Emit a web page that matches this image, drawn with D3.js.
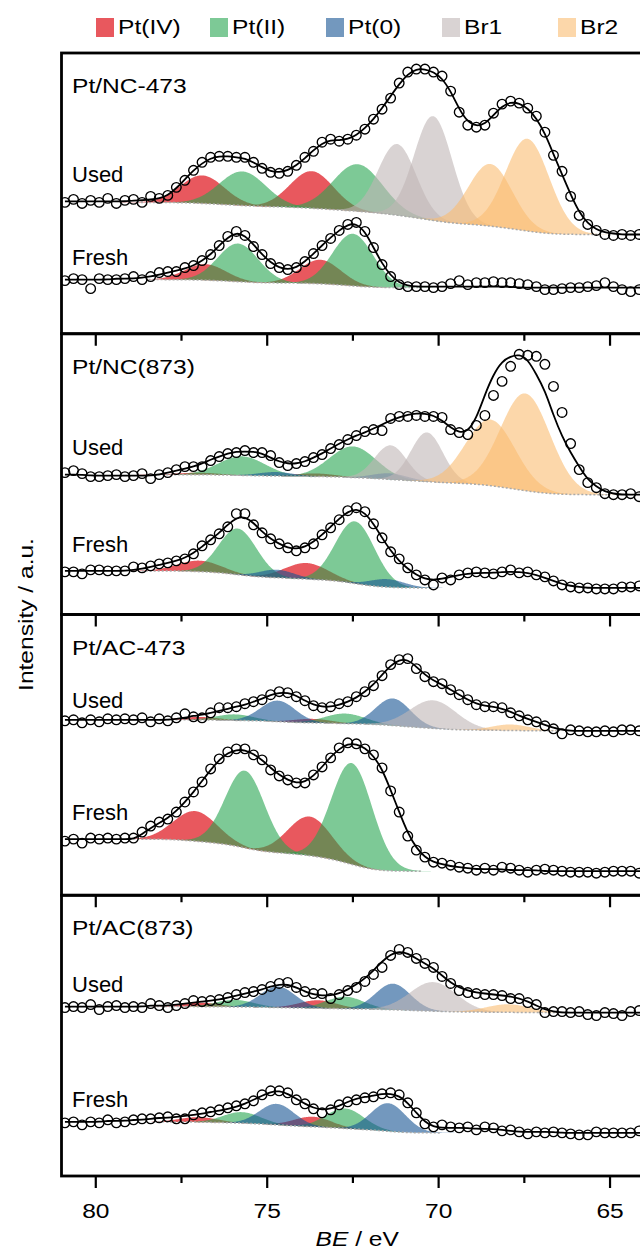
<!DOCTYPE html>
<html>
<head>
<meta charset="utf-8">
<script src="https://cdn.jsdelivr.net/npm/d3@7"></script>
<style>
  body { margin: 0; background: #fff; }
  svg { display: block; font-family: "Liberation Sans", Arial, sans-serif; }
</style>
</head>
<body>
<svg id="chart" width="640" height="1252"></svg>
<script>
// binding energy of the measured points (0.25 eV steps from 80.9 eV)
const bindingEnergy = d3.range(69).map(i => +(80.9 - 0.25 * i).toFixed(2));

const states = ["Pt(IV)", "Pt(II)", "Pt(0)", "Br1", "Br2"];
const samples = ["Pt/NC-473", "Pt/NC(873)", "Pt/AC-473", "Pt/AC(873)"];
const xTicks = [80, 75, 70, 65];
const xMinorTicks = [77.5, 72.5, 67.5];

// measured intensities (a.u., zero = flat baseline at low BE)
const nc473UsedData = [32,35,31,34,32,36,31,34,35,32,38,36,39,47,54,64,72,77,78,78,77,77,72,66,62,61,63,69,77,83,92,95,93,95,99,105,115,125,136,151,162,165,165,162,158,143,122,109,107,109,121,130,133,131,126,118,102,79,63,38,19,10,4,0,-1,0,-1,0,-1];
const nc473UsedFit = [33,33,33,33,33,33,33,33,34,34,35,36,39,46,55,64,71,76,78,78,77,76,72,67,63,62,64,69,76,84,91,94,94,95,99,106,115,126,138,150,160,165,165,162,156,143,125,112,108,110,119,128,132,131,126,116,101,80,60,40,22,11,5,2,1,0,0,0,0];
const nc473FreshData = [7,9,8,-1,9,8,8,9,11,8,11,15,16,16,20,22,27,33,42,51,56,52,41,33,24,20,18,20,26,34,42,49,57,63,65,56,40,23,11,3,1,1,1,0,1,4,7,3,5,5,6,5,5,4,3,1,-2,-2,-1,0,0,1,2,5,1,-2,-4,-2,-3];
const nc473FreshFit = [8,8,8,8,8,8,9,9,9,10,11,13,15,17,19,22,27,33,42,50,55,52,43,33,25,20,18,20,26,34,42,50,57,63,64,56,40,24,12,5,2,1,1,1,1,1,1,1,1,1,1,1,1,0,0,0,0,0,0,0,0,0,0,0,0,0,0,0,0];

const nc873UsedData = [22,24,21,18,18,19,20,18,19,21,16,20,22,25,28,28,28,34,38,41,42,44,42,42,39,32,29,31,33,37,40,46,50,55,59,63,65,64,76,78,78,79,78,78,77,65,62,60,69,79,99,113,128,140,139,138,130,108,82,51,25,12,7,1,0,0,1,-2,0];
const nc873UsedFit = [20,20,20,19,19,19,19,19,19,19,19,20,22,24,26,28,31,35,38,41,43,43,43,41,37,33,31,31,33,37,41,46,51,55,59,62,66,70,74,77,80,81,81,79,74,67,62,63,76,100,120,133,138,140,135,120,104,79,58,42,28,15,8,3,1,0,0,0,0];
const nc873FreshData = [16,16,14,18,18,17,17,17,21,20,22,24,25,27,29,34,42,48,54,61,74,74,63,55,49,44,40,37,40,44,53,60,68,77,80,76,64,50,36,29,20,13,8,3,10,8,13,15,16,15,14,16,18,15,16,13,11,7,3,1,0,0,-1,-1,-1,1,1,2,1];
const nc873FreshFit = [17,17,17,17,17,17,17,17,18,19,21,23,25,27,30,35,41,48,55,63,70,71,65,56,49,44,40,39,41,46,53,61,69,76,79,75,64,50,37,27,19,13,9,8,9,11,13,14,15,15,15,16,16,16,15,13,10,7,4,2,1,0,0,0,0,0,0,0,0];

const ac473UsedData = [10,11,8,11,9,12,11,12,11,13,9,12,10,13,17,14,13,18,23,23,24,27,29,31,36,39,38,34,30,25,23,24,27,29,34,39,45,55,66,71,72,62,54,49,47,41,36,31,26,24,24,23,18,15,11,9,5,2,-3,1,0,-1,-1,0,-1,1,1,0,0];
const ac473UsedFit = [11,11,11,11,11,11,11,11,11,11,11,11,11,12,13,15,16,18,20,22,24,26,29,32,36,38,38,35,30,26,24,24,26,29,33,39,46,56,65,71,71,64,56,50,46,41,36,31,27,25,24,22,19,15,12,9,6,3,1,0,0,0,0,0,0,0,0,0,0];
const ac473FreshData = [30,32,28,33,32,33,32,33,33,39,45,49,52,59,69,79,89,102,112,119,122,122,116,111,101,95,91,88,88,96,104,113,123,128,127,122,116,103,80,59,35,21,14,9,8,6,4,3,1,3,1,4,3,1,-1,1,2,1,0,-1,-1,-1,-2,-1,0,0,0,-2,-1];
const ac473FreshFit = [32,32,32,32,32,32,32,32,32,37,43,48,53,60,69,79,90,101,111,118,121,121,117,111,103,96,91,88,89,95,104,114,122,127,127,123,115,102,81,59,38,23,14,9,7,5,4,3,2,2,2,2,1,1,1,1,0,0,0,0,0,0,0,0,0,0,0,0,0];

const ac873UsedData = [5,6,5,8,3,6,7,5,6,5,9,7,5,7,9,12,11,12,13,15,18,20,21,23,26,29,30,25,21,19,19,14,18,22,25,31,38,45,57,63,60,54,49,45,36,29,22,20,19,18,18,17,14,14,10,8,0,1,1,0,1,-2,-3,0,-1,-3,1,2,1];
const ac873UsedFit = [6,6,6,6,6,6,6,6,6,6,7,7,7,8,9,10,11,12,13,15,17,19,21,23,26,28,28,25,21,18,17,17,19,23,28,34,42,51,58,61,59,54,49,44,37,30,25,22,20,19,18,17,16,14,11,7,3,1,0,0,0,0,0,0,0,0,0,0,0];
const ac873FreshData = [10,11,8,11,10,13,10,11,13,14,14,15,16,14,14,18,20,21,23,25,27,29,32,38,42,42,40,33,29,24,20,23,28,31,33,35,36,39,40,38,30,20,9,6,8,6,5,6,3,6,5,2,3,1,-1,1,0,1,0,-1,-2,-2,1,0,0,0,0,2,3];
const ac873FreshFit = [11,11,11,11,11,12,12,12,13,13,14,15,15,16,17,18,19,21,22,24,26,29,33,37,41,42,39,34,29,25,23,24,27,31,34,36,37,39,39,37,30,20,11,6,5,5,5,5,4,4,4,3,2,1,1,1,1,1,0,0,0,0,0,0,0,0,0,0,0];

// fitted components: [state, centre BE (eV), height (a.u.), FWHM (eV)]
const nc473UsedPeaks = [
  ["Pt(IV)", 76.89, 28, 1.5], ["Pt(IV)", 73.70, 37, 1.5],
  ["Pt(II)", 75.72, 34, 1.6], ["Pt(II)", 72.36, 47, 1.7],
  ["Br1", 71.21, 71, 1.3], ["Br1", 70.16, 104, 1.3],
  ["Br2", 68.49, 62, 1.5], ["Br2", 67.41, 92, 1.5]
];
const nc473FreshPeaks = [
  ["Pt(IV)", 76.80, 16, 1.4], ["Pt(IV)", 73.45, 24, 1.4],
  ["Pt(II)", 75.85, 38, 1.4], ["Pt(II)", 72.50, 52, 1.4]
];
const nc873UsedPeaks = [
  ["Pt(IV)", 77.00, 2, 1.4], ["Pt(IV)", 73.60, 3, 1.4],
  ["Pt(II)", 75.74, 19, 1.6], ["Pt(II)", 72.50, 31, 1.6],
  ["Pt(0)", 74.75, 4, 1.2], ["Pt(0)", 71.42, 6, 1.2],
  ["Br1", 71.40, 34, 1.1], ["Br1", 70.34, 49, 1.1],
  ["Br2", 68.49, 66, 1.7], ["Br2", 67.47, 97, 1.7]
];
const nc873FreshPeaks = [
  ["Pt(IV)", 76.97, 11, 1.5], ["Pt(IV)", 73.85, 16, 1.5],
  ["Pt(II)", 75.86, 46, 1.3], ["Pt(II)", 72.44, 62, 1.35],
  ["Pt(0)", 74.72, 8, 1.2], ["Pt(0)", 71.50, 8, 1.2]
];
const ac473UsedPeaks = [
  ["Pt(IV)", 76.97, 3, 1.3], ["Pt(IV)", 73.67, 4, 1.3],
  ["Pt(II)", 75.95, 6, 1.3], ["Pt(II)", 72.73, 10, 1.4],
  ["Pt(0)", 74.69, 21, 1.2], ["Pt(0)", 71.33, 27, 1.2],
  ["Br1", 70.16, 28, 1.6],
  ["Br2", 67.90, 6, 1.3]
];
const ac473FreshPeaks = [
  ["Pt(IV)", 77.10, 30, 1.5], ["Pt(IV)", 73.76, 39, 1.5],
  ["Pt(II)", 75.65, 77, 1.35], ["Pt(II)", 72.53, 101, 1.4]
];
const ac873UsedPeaks = [
  ["Pt(IV)", 76.97, 4, 1.3], ["Pt(IV)", 73.52, 8, 1.3],
  ["Pt(II)", 75.95, 7, 1.3], ["Pt(II)", 72.73, 12, 1.3],
  ["Pt(0)", 74.69, 21, 1.2], ["Pt(0)", 71.33, 26, 1.2],
  ["Br1", 70.16, 29, 1.6],
  ["Br2", 67.98, 8, 1.5]
];
const ac873FreshPeaks = [
  ["Pt(IV)", 77.00, 5, 1.3], ["Pt(IV)", 73.67, 10, 1.3],
  ["Pt(II)", 75.74, 11, 1.3], ["Pt(II)", 72.73, 20, 1.3],
  ["Pt(0)", 74.72, 21, 1.2], ["Pt(0)", 71.47, 28, 1.2]
];

// Shirley background level on the high-BE side
const bgHighLevels = [32, 8, 20, 17, 11, 32, 6, 11];

// ---- styling / layout ----
const stateColors = { "Pt(IV)": "#e43b42", "Pt(II)": "#26a550", "Pt(0)": "#165393", "Br1": "#c0b6b6", "Br2": "#fabc71" };
const stateOpacity = { "Pt(IV)": 0.85, "Pt(II)": 0.6, "Pt(0)": 0.6, "Br1": 0.6, "Br2": 0.6 };

const plotLeft = 61.5, plotRight = 652.9;
const panelTop0 = 53, panelH = 280.75;
const textStretch = 1.17;
// vertical offset of each spectrum inside its panel and height of its label
const spectrumOffset = [99, 46, 119.5, 26.5, 164, 24, 163, 43];
const labelHeight = [52, 23, 40, 36, 23, 51, 21, 26];

const spectra = [
  { panel: 0, name: "Used", data: nc473UsedData, fit: nc473UsedFit, peaks: nc473UsedPeaks },
  { panel: 0, name: "Fresh", data: nc473FreshData, fit: nc473FreshFit, peaks: nc473FreshPeaks },
  { panel: 1, name: "Used", data: nc873UsedData, fit: nc873UsedFit, peaks: nc873UsedPeaks },
  { panel: 1, name: "Fresh", data: nc873FreshData, fit: nc873FreshFit, peaks: nc873FreshPeaks },
  { panel: 2, name: "Used", data: ac473UsedData, fit: ac473UsedFit, peaks: ac473UsedPeaks },
  { panel: 2, name: "Fresh", data: ac473FreshData, fit: ac473FreshFit, peaks: ac473FreshPeaks },
  { panel: 3, name: "Used", data: ac873UsedData, fit: ac873UsedFit, peaks: ac873UsedPeaks },
  { panel: 3, name: "Fresh", data: ac873FreshData, fit: ac873FreshFit, peaks: ac873FreshPeaks }
];
spectra.forEach((s, i) => { s.bgHigh = bgHighLevels[i]; s.offset = spectrumOffset[i]; s.labelH = labelHeight[i]; });

const svg = d3.select("#chart");
const x = d3.scaleLinear().domain([81.0, 63.75]).range([plotLeft, plotRight]);

const panelY = samples.map((s, p) => {
  const top = panelTop0 + p * panelH;
  return d3.scaleLinear().domain([0, 280]).range([top + panelH, top]);
});

// text drawn a little wider than the plain font, like the original figure
function wideText(parent, px, py, str, size, anchor, extra) {
  return parent.append("text")
    .attr("transform", `translate(${px},${py})${extra || ""} scale(${textStretch},1)`)
    .attr("text-anchor", anchor || "start")
    .style("font-size", size + "px")
    .text(str);
}

// fine BE grid for the component curves
const fineBE = d3.range(81.2, 63.5, -0.02);

function gauss(e, p) {
  return p[2] * Math.exp(-4 * Math.LN2 * Math.pow((e - p[1]) / p[3], 2));
}

function shirley(peaks, high) {
  const sums = fineBE.map(e => d3.sum(peaks, p => gauss(e, p)));
  const cum = new Array(sums.length);
  let acc = 0;
  for (let i = sums.length - 1; i >= 0; i--) { acc += sums[i]; cum[i] = acc; }
  return { bg: cum.map(c => high * c / acc), sums };
}

// clip paths
const defs = svg.append("defs");
samples.forEach((s, p) => {
  defs.append("clipPath").attr("id", "clip" + p)
    .append("rect")
    .attr("x", plotLeft).attr("y", panelTop0 + p * panelH)
    .attr("width", plotRight - plotLeft).attr("height", panelH);
});

spectra.forEach(s => {
  const y = panelY[s.panel];
  const g = svg.append("g").attr("clip-path", `url(#clip${s.panel})`);
  const { bg, sums } = shirley(s.peaks, s.bgHigh);

  // component peaks on top of the background
  s.peaks.forEach(p => {
    const pts = fineBE.map((e, i) => ({ e, b: bg[i], v: gauss(e, p) })).filter(d => d.v > 0.02);
    g.append("path")
      .datum(pts)
      .attr("fill", stateColors[p[0]])
      .attr("fill-opacity", stateOpacity[p[0]])
      .attr("d", d3.area()
        .x(d => x(d.e))
        .y0(d => y(s.offset + d.b))
        .y1(d => y(s.offset + d.b + d.v)));
  });

  // background
  const idx = sums.map((v, i) => v > 0.3 ? i : -1).filter(i => i >= 0);
  const bgPts = d3.range(idx[0], idx[idx.length - 1] + 1).map(i => [fineBE[i], bg[i]]);
  g.append("path")
    .datum(bgPts)
    .attr("fill", "none")
    .attr("stroke", "#aaaaaa")
    .attr("stroke-width", 1.5)
    .attr("stroke-dasharray", "2,2")
    .attr("d", d3.line().x(d => x(d[0])).y(d => y(s.offset + d[1])));

  // envelope
  g.append("path")
    .datum(s.fit)
    .attr("fill", "none")
    .attr("stroke", "#000")
    .attr("stroke-width", 1.8)
    .attr("d", d3.line()
      .curve(d3.curveBasis)
      .x((d, i) => x(bindingEnergy[i]))
      .y(d => y(s.offset + d)));

  // measured points
  g.selectAll(null)
    .data(s.data)
    .enter().append("circle")
    .attr("cx", (d, i) => x(bindingEnergy[i]))
    .attr("cy", d => y(s.offset + d))
    .attr("r", 4.8)
    .attr("fill", "none")
    .attr("stroke", "#000")
    .attr("stroke-width", 1.35);

  svg.append("text")
    .attr("x", 72)
    .attr("y", y(s.offset + s.labelH))
    .style("font-size", "22px")
    .text(s.name);
});

// panel frames, labels and ticks
samples.forEach((name, p) => {
  const top = panelTop0 + p * panelH;
  svg.append("rect")
    .attr("x", plotLeft).attr("y", top)
    .attr("width", plotRight - plotLeft).attr("height", panelH)
    .attr("fill", "none").attr("stroke", "#000").attr("stroke-width", 2.8);

  wideText(svg, 72, top + 40, name, 21);

  if (p > 0) {
    svg.selectAll(null).data(xTicks).enter().append("line")
      .attr("x1", d => x(d)).attr("x2", d => x(d))
      .attr("y1", top).attr("y2", top + 12)
      .attr("stroke", "#000").attr("stroke-width", 2.2);
    svg.selectAll(null).data(xMinorTicks).enter().append("line")
      .attr("x1", d => x(d)).attr("x2", d => x(d))
      .attr("y1", top).attr("y2", top + 7)
      .attr("stroke", "#000").attr("stroke-width", 2.2);
  }
});

// bottom axis
const bottom = panelTop0 + 4 * panelH;
const xAxis = svg.append("g").attr("transform", `translate(0,${bottom})`);
xAxis.selectAll(null).data(xTicks).enter().append("line")
  .attr("x1", d => x(d)).attr("x2", d => x(d))
  .attr("y1", 0).attr("y2", 12)
  .attr("stroke", "#000").attr("stroke-width", 2.2);
xAxis.selectAll(null).data(xMinorTicks).enter().append("line")
  .attr("x1", d => x(d)).attr("x2", d => x(d))
  .attr("y1", 0).attr("y2", 7)
  .attr("stroke", "#000").attr("stroke-width", 2.2);
xTicks.forEach(t => wideText(xAxis, x(t), 42, t, 21, "middle"));

const xTitle = wideText(svg, (plotLeft + plotRight) / 2, 1246, "", 21, "middle");
xTitle.append("tspan").style("font-style", "italic").text("BE");
xTitle.append("tspan").text(" / eV");

wideText(svg, 33, panelTop0 + 2 * panelH, "Intensity / a.u.", 21, "middle", " rotate(-90)");

// legend
const legendX = [96, 210, 326, 442, 558];
const legend = svg.selectAll(".legend").data(states).enter().append("g")
  .attr("class", "legend")
  .attr("transform", (d, i) => `translate(${legendX[i]},18)`);
legend.append("rect")
  .attr("width", 18).attr("height", 19)
  .attr("fill", d => stateColors[d])
  .attr("fill-opacity", d => stateOpacity[d]);
legend.each(function (d) { wideText(d3.select(this), 22, 16, d, 21); });
</script>
</body>
</html>
